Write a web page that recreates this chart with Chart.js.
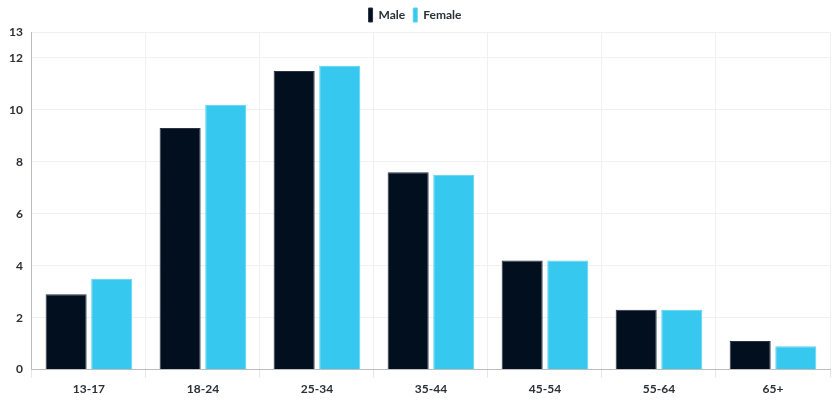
<!DOCTYPE html>
<html>
<head>
<meta charset="utf-8">
<script src="https://cdn.jsdelivr.net/npm/chart.js@4/dist/chart.umd.min.js"></script>
<style>
  html, body { margin: 0; padding: 0; background: #fff; }
  #wrap { width: 833px; height: 400px; }
</style>
</head>
<body>
<div id="wrap"><canvas id="ageChart"></canvas></div>
<script>
// age groups and share per gender
const ageGroups = ['13-17', '18-24', '25-34', '35-44', '45-54', '55-64', '65+'];
const maleValues = [2.9, 9.3, 11.5, 7.6, 4.2, 2.3, 1.1];
const femaleValues = [3.5, 10.2, 11.7, 7.5, 4.2, 2.3, 0.9];
const yTicks = [0, 2, 4, 6, 8, 10, 12, 13];

Chart.defaults.font.family = 'Lato, sans-serif';
Chart.defaults.font.weight = 'bold';
Chart.defaults.font.size = 12;
Chart.defaults.color = '#2b2f36';

const ctx = document.getElementById('ageChart').getContext('2d');
const myChart = new Chart(ctx, {
  type: 'bar',
  data: {
    labels: ageGroups,
    datasets: [{
      label: 'Male',
      data: maleValues,
      backgroundColor: '#020f1f',
      borderColor: '#2a3340',
      borderWidth: 1
    }, {
      label: 'Female',
      data: femaleValues,
      backgroundColor: '#36c8ee',
      borderColor: '#5ad4f2',
      borderWidth: 1
    }]
  },
  options: {
    responsive: true,
    maintainAspectRatio: false,
    animation: false,
    layout: { padding: { left: 0, right: 3, top: 0, bottom: 0 } },
    plugins: {
      legend: {
        labels: { boxWidth: 4, boxHeight: 14, padding: 8 }
      },
      tooltip: { enabled: false }
    },
    scales: {
      x: {
        grid: { color: '#f0f0f0', tickColor: '#e6e6e6', offset: true },
        border: { color: '#bdbdbd' },
        ticks: { padding: 4 }
      },
      y: {
        min: 0,
        max: 13,
        afterBuildTicks: axis => { axis.ticks = yTicks.map(v => ({ value: v })); },
        grid: { color: '#f0f0f0', drawTicks: false },
        border: { color: '#bdbdbd' },
        ticks: { padding: 9 }
      }
    }
  }
});
</script>
</body>
</html>
